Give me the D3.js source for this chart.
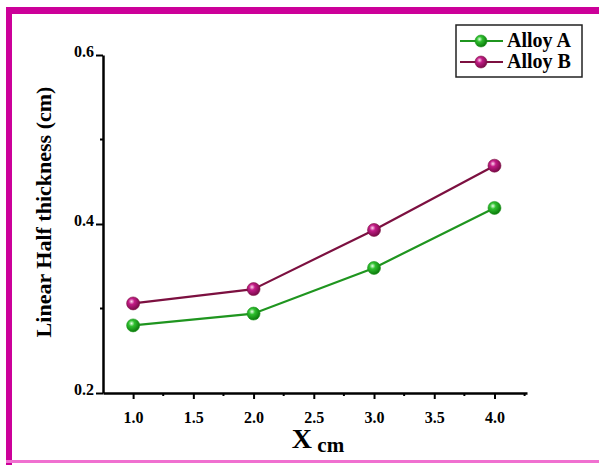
<!DOCTYPE html>
<html>
<head>
<meta charset="utf-8">
<script src="https://cdn.jsdelivr.net/npm/d3@7"></script>
<style>
  body { margin: 0; background: #fff; }
  svg { display: block; }
</style>
</head>
<body>
<div id="chart"></div>
<script>
// data
const xValues = [1.0, 2.0, 3.0, 4.0];
const alloyA = [0.280, 0.294, 0.348, 0.419];
const alloyB = [0.306, 0.323, 0.393, 0.469];
const seriesNames = ["Alloy A", "Alloy B"];
const xTicks = [1.0, 1.5, 2.0, 2.5, 3.0, 3.5, 4.0];
const yTicks = [0.2, 0.4, 0.6];

const w = 599, h = 465;
const font = "'Liberation Serif', 'Times New Roman', serif";

const svg = d3.select("#chart")
    .append("svg")
    .attr("width", w)
    .attr("height", h);

// sphere look for markers
const defs = svg.append("defs");
function ball(id, light, mid, dark) {
    const g = defs.append("radialGradient")
        .attr("id", id)
        .attr("cx", "38%").attr("cy", "35%").attr("r", "65%");
    g.append("stop").attr("offset", "0%").attr("stop-color", light);
    g.append("stop").attr("offset", "35%").attr("stop-color", mid);
    g.append("stop").attr("offset", "100%").attr("stop-color", dark);
}
ball("ballA", "#e8ffe8", "#2fc02f", "#0c7a0c");
ball("ballB", "#ffd6f0", "#c21c86", "#7a0a4a");

const series = [
    { name: seriesNames[0], values: alloyA, line: "#1f951f", fill: "url(#ballA)" },
    { name: seriesNames[1], values: alloyB, line: "#7c1040", fill: "url(#ballB)" }
];

// magenta frame
svg.append("rect").attr("x", 0).attr("y", 0).attr("width", w).attr("height", h).attr("fill", "#fff");
svg.append("rect").attr("x", 6).attr("y", 7).attr("width", w - 6).attr("height", 7).attr("fill", "#cc0099");
svg.append("rect").attr("x", 6).attr("y", 7).attr("width", 6).attr("height", h - 7).attr("fill", "#cc0099");
svg.append("rect").attr("x", 6).attr("y", 460).attr("width", w - 6).attr("height", 3).attr("fill", "#f070d0");

const x = d3.scaleLinear().domain([0.75, 4.27]).range([103, 527]);
const y = d3.scaleLinear().domain([0.2, 0.6]).range([393, 55]);

// minor ticks
const g = svg.append("g");
g.selectAll(".xminor")
    .data(d3.range(1.25, 4.26, 0.5))
    .enter().append("line")
    .attr("x1", d => x(d)).attr("x2", d => x(d))
    .attr("y1", 393).attr("y2", 396)
    .attr("stroke", "#000").attr("stroke-width", 2);
g.selectAll(".yminor")
    .data([0.3, 0.5])
    .enter().append("line")
    .attr("y1", d => y(d)).attr("y2", d => y(d))
    .attr("x1", 103).attr("x2", 100)
    .attr("stroke", "#000").attr("stroke-width", 2);

// axes
const xAxis = d3.axisBottom(x).tickValues(xTicks).tickFormat(d3.format(".1f")).tickSize(6).tickSizeOuter(0);
const yAxis = d3.axisLeft(y).tickValues(yTicks).tickFormat(d3.format(".1f")).tickSize(7).tickSizeOuter(0);

const xg = svg.append("g")
    .attr("transform", "translate(0,393)")
    .call(xAxis);
const yg = svg.append("g")
    .attr("transform", "translate(103,0)")
    .call(yAxis);

[xg, yg].forEach(a => {
    a.select(".domain").attr("stroke", "#000").attr("stroke-width", 2.5);
    a.selectAll(".tick line").attr("stroke", "#000").attr("stroke-width", 2);
    a.selectAll("text")
        .attr("fill", "#000")
        .attr("font-family", font)
        .attr("font-weight", "bold")
        .attr("font-size", 16);
});
xg.attr("font-size", 16).attr("font-family", font);
yg.attr("font-size", 16).attr("font-family", font);
xg.selectAll("text").attr("dy", "1.3em");
yg.selectAll("text").attr("x", -9).attr("dy", "0.1em");

// lines
const line = d3.line()
    .x((d, i) => x(xValues[i]))
    .y(d => y(d));

series.forEach(s => {
    svg.append("path")
        .datum(s.values)
        .attr("d", line)
        .attr("fill", "none")
        .attr("stroke", s.line)
        .attr("stroke-width", 2.2);
    svg.selectAll(null)
        .data(s.values)
        .enter().append("circle")
        .attr("cx", (d, i) => x(xValues[i]))
        .attr("cy", d => y(d))
        .attr("r", 6.5)
        .attr("fill", s.fill)
        .attr("stroke", s.line)
        .attr("stroke-width", 0.6);
});

// axis titles
svg.append("text")
    .attr("transform", "translate(51,212) rotate(-90)")
    .attr("text-anchor", "middle")
    .attr("font-family", font)
    .attr("font-weight", "bold")
    .attr("font-size", 22)
    .text("Linear Half thickness (cm)");

const xt = svg.append("text")
    .attr("x", 318).attr("y", 448)
    .attr("text-anchor", "middle")
    .attr("font-family", font)
    .attr("font-weight", "bold");
xt.append("tspan").attr("font-size", 28).text("X");
xt.append("tspan").attr("font-size", 21).attr("dy", 4).text(" cm");

// legend
const lg = svg.append("g");
lg.append("rect")
    .attr("x", 456).attr("y", 25).attr("width", 126).attr("height", 52)
    .attr("fill", "#fff").attr("stroke", "#222").attr("stroke-width", 1.5);
series.forEach((s, i) => {
    const yy = 41 + i * 21;
    lg.append("line")
        .attr("x1", 460).attr("x2", 503).attr("y1", yy).attr("y2", yy)
        .attr("stroke", s.line).attr("stroke-width", 2.2);
    lg.append("circle")
        .attr("cx", 481).attr("cy", yy).attr("r", 6)
        .attr("fill", s.fill).attr("stroke", s.line).attr("stroke-width", 0.6);
    lg.append("text")
        .attr("x", 507).attr("y", yy + 6)
        .attr("font-family", font)
        .attr("font-weight", "bold")
        .attr("font-size", 20)
        .text(s.name);
});
</script>
</body>
</html>
